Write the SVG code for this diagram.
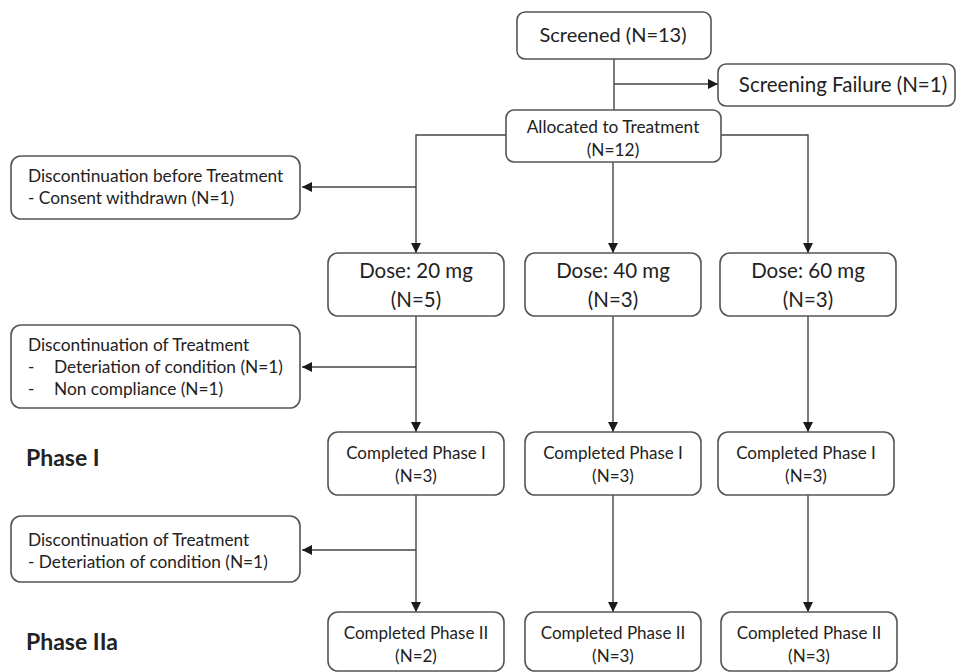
<svg xmlns="http://www.w3.org/2000/svg" width="957" height="672" viewBox="0 0 957 672">
<defs>
<marker id="arr" viewBox="0 0 10 10" refX="10" refY="5" markerWidth="10" markerHeight="10" markerUnits="userSpaceOnUse" orient="auto">
<path d="M0,0 L10,5 L0,10 z" fill="#1a1a1a"/>
</marker>
<style>
.box{fill:#fff;stroke:#555;stroke-width:1.6}
.ln{fill:none;stroke:#444;stroke-width:1.4}
.t{font-family:Lato,"Liberation Sans",sans-serif;fill:#222}
.c{text-anchor:middle}
.scr{font-size:20px}
.big{font-size:20.5px}
.dose{font-size:20.5px}
.mid{font-size:17.3px}
.sm{font-size:17px}
.ph{font-size:23px;font-weight:bold}
</style>
</defs>
<rect width="957" height="672" fill="#fff"/>
<g id="connectors">
<path class="ln" d="M614,59 V110"/>
<path class="ln" d="M614,84 H718" marker-end="url(#arr)"/>
<path class="ln" d="M506,135 H416 V253" marker-end="url(#arr)"/>
<path class="ln" d="M416,187 H302" marker-end="url(#arr)"/>
<path class="ln" d="M613,162 V253" marker-end="url(#arr)"/>
<path class="ln" d="M721,135 H808 V253" marker-end="url(#arr)"/>
<path class="ln" d="M416,316 V432" marker-end="url(#arr)"/>
<path class="ln" d="M416,367 H302" marker-end="url(#arr)"/>
<path class="ln" d="M613,316 V432" marker-end="url(#arr)"/>
<path class="ln" d="M808,316 V432" marker-end="url(#arr)"/>
<path class="ln" d="M416,495 V612" marker-end="url(#arr)"/>
<path class="ln" d="M416,550 H302" marker-end="url(#arr)"/>
<path class="ln" d="M613,495 V612" marker-end="url(#arr)"/>
<path class="ln" d="M808,495 V612" marker-end="url(#arr)"/>
</g>
<g id="screened">
<rect class="box" x="517" y="12" width="194" height="47" rx="8"/>
<text class="t c scr" x="613" y="42">Screened (N=13)</text>
</g>
<g id="screening-failure">
<rect class="box" x="718" y="64" width="237" height="42" rx="8"/>
<text class="t c big" x="843" y="92">Screening Failure (N=1)</text>
</g>
<g id="allocated">
<rect class="box" x="506" y="110" width="215" height="52" rx="8"/>
<text class="t c mid" x="613" y="133">Allocated to Treatment</text>
<text class="t c mid" x="613" y="156">(N=12)</text>
</g>
<g id="disc-before">
<rect class="box" x="11" y="156" width="289" height="63" rx="10"/>
<text class="t mid" x="28" y="182">Discontinuation before Treatment</text>
<text class="t mid" x="28" y="204">- Consent withdrawn (N=1)</text>
</g>
<g id="dose20">
<rect class="box" x="328" y="253" width="176" height="63" rx="10"/>
<text class="t c dose" x="416" y="278">Dose: 20 mg</text>
<text class="t c dose" x="416" y="307">(N=5)</text>
</g>
<g id="dose40">
<rect class="box" x="525" y="253" width="176" height="63" rx="10"/>
<text class="t c dose" x="613" y="278">Dose: 40 mg</text>
<text class="t c dose" x="613" y="307">(N=3)</text>
</g>
<g id="dose60">
<rect class="box" x="720" y="253" width="176" height="63" rx="10"/>
<text class="t c dose" x="808" y="278">Dose: 60 mg</text>
<text class="t c dose" x="808" y="307">(N=3)</text>
</g>
<g id="disc-treatment-1">
<rect class="box" x="11" y="325" width="289" height="83" rx="10"/>
<text class="t mid" x="28" y="351">Discontinuation of Treatment</text>
<text class="t mid" x="28" y="373">-</text>
<text class="t mid" x="54" y="373">Deteriation of condition (N=1)</text>
<text class="t mid" x="28" y="395">-</text>
<text class="t mid" x="54" y="395">Non compliance (N=1)</text>
</g>
<g id="phase1-label">
<text class="t ph" x="26" y="466">Phase I</text>
</g>
<g id="cp1-20">
<rect class="box" x="328" y="432" width="176" height="63" rx="10"/>
<text class="t c sm" x="416" y="459">Completed Phase I</text>
<text class="t c sm" x="416" y="482">(N=3)</text>
</g>
<g id="cp1-40">
<rect class="box" x="525" y="432" width="176" height="63" rx="10"/>
<text class="t c sm" x="613" y="459">Completed Phase I</text>
<text class="t c sm" x="613" y="482">(N=3)</text>
</g>
<g id="cp1-60">
<rect class="box" x="718" y="432" width="176" height="63" rx="10"/>
<text class="t c sm" x="806" y="459">Completed Phase I</text>
<text class="t c sm" x="806" y="482">(N=3)</text>
</g>
<g id="disc-treatment-2">
<rect class="box" x="11" y="516" width="289" height="66" rx="10"/>
<text class="t mid" x="28" y="546">Discontinuation of Treatment</text>
<text class="t mid" x="28" y="568">- Deteriation of condition (N=1)</text>
</g>
<g id="phase2a-label">
<text class="t ph" x="26" y="650">Phase IIa</text>
</g>
<g id="cp2-20">
<rect class="box" x="328" y="612" width="176" height="59" rx="10"/>
<text class="t c sm" x="416" y="639">Completed Phase II</text>
<text class="t c sm" x="416" y="662">(N=2)</text>
</g>
<g id="cp2-40">
<rect class="box" x="525" y="612" width="176" height="59" rx="10"/>
<text class="t c sm" x="613" y="639">Completed Phase II</text>
<text class="t c sm" x="613" y="662">(N=3)</text>
</g>
<g id="cp2-60">
<rect class="box" x="721" y="612" width="176" height="59" rx="10"/>
<text class="t c sm" x="809" y="639">Completed Phase II</text>
<text class="t c sm" x="809" y="662">(N=3)</text>
</g>
</svg>
